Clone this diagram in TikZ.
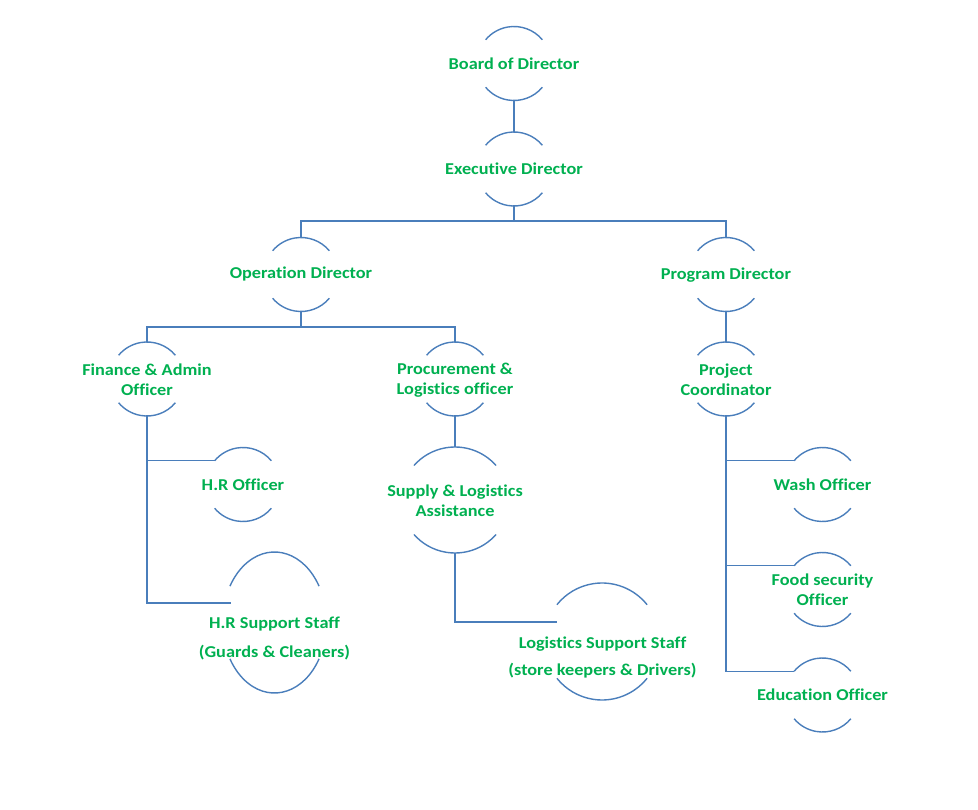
\documentclass[tikz,border=0pt]{standalone}
\usepackage{fontspec}
\setmainfont{Carlito}[FakeStretch=1.1,Ligatures=NoCommon]
\definecolor{orgline}{RGB}{74,126,187}
\definecolor{orgtext}{RGB}{0,176,80}
\tikzset{
  arcline/.style={draw=orgline,line width=1.4pt},
  conn/.style={draw=orgline,line width=1.4pt},
  lbl/.style={text=orgtext,font=\bfseries\fontsize{16.6}{20}\selectfont,align=center,inner sep=0pt},
}
\newcommand\orgshape[6]{%
  \coordinate (#1) at (#2,#3);
  \path (#1) ++(0,-#5) coordinate (#1-t);
  \path (#1) ++(0,#5) coordinate (#1-b);
  \path (#1) ++({180+#6}:#4 and #5) coordinate (#1-l);
  \draw[arcline] (#1) ++({-#6}:#4 and #5) arc[start angle={-#6}, end angle={-180+#6}, x radius=#4, y radius=#5];
  \draw[arcline] (#1) ++(#6:#4 and #5) arc[start angle=#6, end angle={180-#6}, x radius=#4, y radius=#5];
}
\begin{document}
\begin{tikzpicture}[x=1pt,y=-1pt]
\useasboundingbox (0,0) rectangle (978,810);
% shapes
\orgshape{bod}{514}{63.5}{37}{37}{40}
\orgshape{exe}{514}{169}{37}{37}{40}
\orgshape{ops}{301}{274.5}{37}{37}{40}
\orgshape{prog}{726}{274.5}{37}{37}{40}
\orgshape{fin}{147}{379}{37}{37}{40}
\orgshape{proc}{455}{379}{37}{37}{40}
\orgshape{proj}{726}{379}{37}{37}{40}
\orgshape{hro}{243}{484.5}{37}{37}{40}
\orgshape{hrs}{274.5}{622.5}{52}{70.5}{31}
\orgshape{sup}{455}{500}{54}{53}{40.6}
\orgshape{lss}{602}{641.5}{58}{58.5}{39}
\orgshape{wash}{822.5}{484.5}{37}{37}{40}
\orgshape{food}{822.5}{589.5}{37}{37}{40}
\orgshape{edu}{822.5}{695}{37}{37}{40}
% labels
\begin{scope}[yshift=-1pt]
\node[lbl] (bod-x) at (514,63) {Board of Director};
\node[lbl] (exe-x) at (514,168) {Executive Director};
\node[lbl] (ops-x) at (301,273) {Operation Director};
\node[lbl] (prog-x) at (726,274) {Program Director};
\node[lbl] (fin-x) at (147,379) {Finance \& Admin\\Officer};
\node[lbl] (proc-x) at (455,379) {Procurement \&\\Logistics officer};
\node[lbl] (proj-x) at (726,379) {Project\\Coordinator};
\node[lbl] (hro-x) at (243,484) {H.R Officer};
\node[lbl,font=\bfseries\fontsize{16.6}{29}\selectfont] (hrs-x) at (274.5,637.5) {H.R Support Staff\\(Guards \& Cleaners)};
\node[lbl] (sup-x) at (455,500) {Supply \& Logistics\\Assistance};
\node[lbl,font=\bfseries\fontsize{16.6}{27}\selectfont] (lss-x) at (602.5,656.5) {Logistics Support Staff\\(store keepers \& Drivers)};
\node[lbl] (wash-x) at (822.5,484) {Wash Officer};
\node[lbl] (food-x) at (822.5,589) {Food security\\Officer};
\node[lbl] (edu-x) at (822.5,694) {Education Officer};
\end{scope}
% connector end points
\coordinate (hrs-in) at (231,603);
\coordinate (lss-in) at (557,622);
% connectors
\draw[conn] (bod-b) -- (exe-t);
\draw[conn,line width=2pt] (exe-b) -- ++(0,15) coordinate (bus1);
\draw[conn] (bus1) -| (ops-t);
\draw[conn] (bus1) -| (prog-t);
\draw[conn,line width=2pt] (ops-b) -- ++(0,15.5) coordinate (bus2);
\draw[conn] (bus2) -| (fin-t);
\draw[conn] (bus2) -| (proc-t);
\draw[conn] (prog-b) -- (proj-t);
\draw[conn] (fin-b) |- (hro-l);
\draw[conn] (fin-b) |- (hrs-in);
\draw[conn] (proc-b) -- (sup-t);
\draw[conn] (sup-b) |- (lss-in);
\draw[conn] (proj-b) |- (wash-l);
\draw[conn] (proj-b) |- (food-l);
\draw[conn] (proj-b) |- (edu-l);
\end{tikzpicture}
\end{document}
